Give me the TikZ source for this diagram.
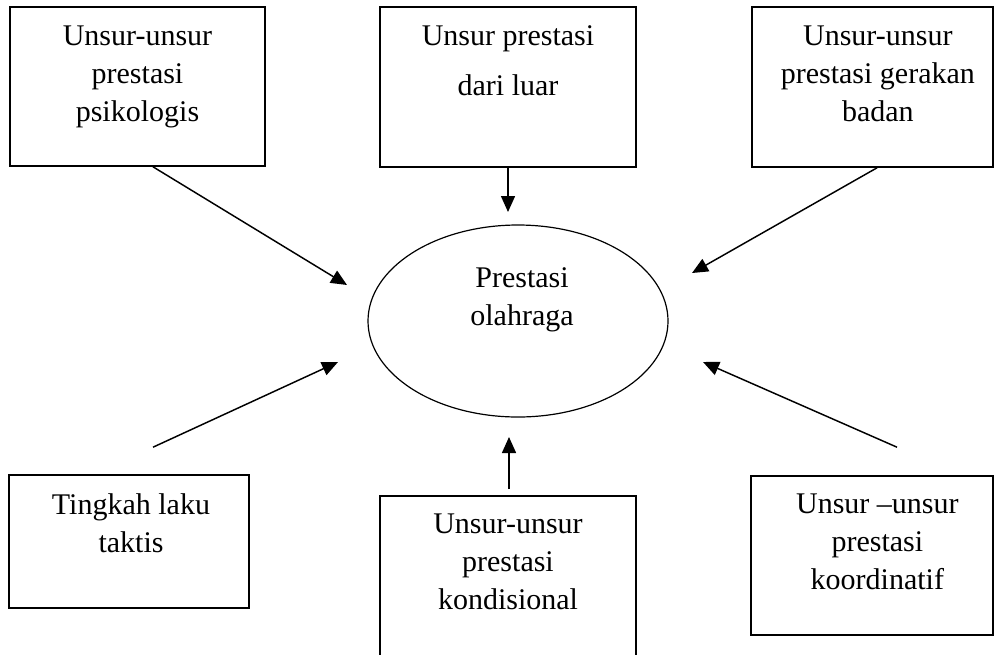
\documentclass[tikz,border=0pt]{standalone}
\usepackage{fontspec}
\setmainfont{Liberation Serif}
\usetikzlibrary{positioning,calc,shapes.geometric,arrows.meta}
\tikzset{box/.style={draw,line width=1.2pt,inner sep=0pt},
	oval/.style={draw,ellipse,line width=0.9pt,inner sep=0pt},
	txt/.style={align=center,inner sep=0pt,font=\fontsize{22.5}{28.5}\selectfont},
	arr/.style={line width=1.1pt,-{Triangle[length=12pt,width=10.5pt]}}}

\begin{document}
\begin{tikzpicture}[x=0.75pt,y=-0.75pt]
	\useasboundingbox (0,0) rectangle (994,654);
	% kotak-kotak
	\node[box,minimum width=191.25pt,minimum height=119.25pt] (b1) at (137.5,86.5) {};
	\node[box,minimum width=192pt,minimum height=120pt] (b2) at (508,87) {};
	\node[box,minimum width=180.75pt,minimum height=120pt] (b3) at (872.5,87) {};
	\node[box,minimum width=180pt,minimum height=99.75pt] (b4) at (129,541.5) {};
	\node[box,minimum width=192pt,minimum height=121.5pt] (b5) at (508,577) {};
	\node[box,minimum width=181.5pt,minimum height=119.25pt] (b6) at (872,555.5) {};
	\node[oval,minimum width=225pt,minimum height=144pt] (pusat) at (518,321) {};

	\node[txt,below=14.25pt of b1.north] (t1) {Unsur-unsur\\prestasi\\psikologis};
	\node[txt,below=14.25pt of b2.north,font=\fontsize{22.5}{37.5}\selectfont] (t2) {Unsur prestasi\\dari luar};
	\node[txt,below=14.25pt of b3.north,xshift=4pt] (t3) {Unsur-unsur\\prestasi gerakan\\badan};
	\node[txt,below=14.25pt of b4.north,xshift=1.5pt] (t4) {Tingkah laku\\taktis};
	\node[txt,below=13.5pt of b5.north] (t5) {Unsur-unsur\\prestasi\\kondisional};
	\node[txt,below=13.5pt of b6.north,xshift=4pt] (t6) {Unsur –unsur\\prestasi\\koordinatif};
	\node[txt,below=32.25pt of pusat.north,xshift=3pt] (t0) {Prestasi\\olahraga};

	% panah
	\path ($(b1.south)+(15.5,0)$) coordinate (s1)  (347,285) coordinate (e1)
	      (b2.south) coordinate (s2)  (508,212) coordinate (e2)
	      ($(b3.south)+(4.5,0)$) coordinate (s3)  (692,273) coordinate (e3)
	      ($(b4.north)+(24,-27)$) coordinate (s4)  (338,362) coordinate (e4)
	      ($(b5.north)+(1,-6)$) coordinate (s5)  (509,437) coordinate (e5)
	      ($(b6.north)+(25,-28)$) coordinate (s6)  (703,362) coordinate (e6);
	\foreach \i in {1,...,6}{
		\draw[arr] (s\i) -- (e\i);
	}
\end{tikzpicture}
\end{document}
